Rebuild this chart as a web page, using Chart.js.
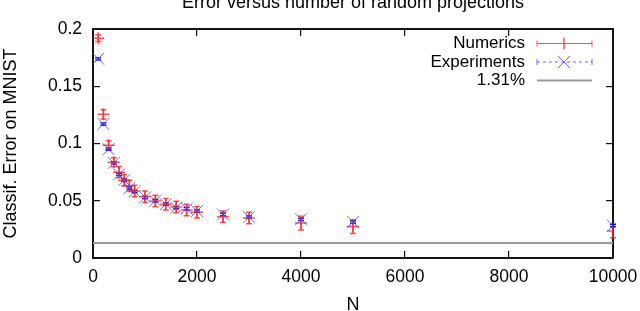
<!DOCTYPE html>
<html><head><meta charset="utf-8">
<script src="https://cdn.jsdelivr.net/npm/chart.js@4.4.1/dist/chart.umd.min.js"></script>
<style>html,body{margin:0;padding:0;background:#fff;}#w{width:640px;height:311px;}</style>
</head><body><div id="w"><canvas id="c"></canvas></div>
<script>
const titleText = "Error versus number of random projections";
const xTitle = "N";
const yTitle = "Classif. Error on MNIST";
const Nvals = [100,200,300,400,500,600,700,800,1000,1200,1400,1600,1800,2000,2500,3000,4000,5000,10000];
const numerics = [0.192,0.1255,0.0985,0.0836,0.075,0.068,0.063,0.0585,0.0535,0.0498,0.047,0.0445,0.042,0.040,0.036,0.0350,0.0305,0.0275,0.0236];
const numericsErr = [0.003,0.004,0.004,0.004,0.005,0.005,0.005,0.005,0.005,0.005,0.005,0.005,0.005,0.005,0.005,0.005,0.006,0.006,0.006];
const experiments = [0.174,0.117,0.095,0.083,0.073,0.068,0.061,0.058,0.053,0.050,0.047,0.044,0.043,0.041,0.038,0.0357,0.0338,0.0314,0.0282];
const experimentsErr = [0.001,0.001,0.001,0.001,0.001,0.001,0.001,0.001,0.001,0.001,0.001,0.001,0.001,0.001,0.001,0.001,0.001,0.001,0.001];
const refLevel = 0.0131;
const legendLabels = ["Numerics","Experiments","1.31%"];
const xTicks = [0,2000,4000,6000,8000,10000];
const yTicks = [0,0.05,0.1,0.15,0.2];

const RED = 'rgba(255,40,40,0.8)';
const BLUE = 'rgba(70,70,255,0.8)';
const GRAY = '#999999';
const FRAME = '#141414';
const FONT = '"Liberation Sans", Arial, sans-serif';

const overlay = {
  id: 'overlay',
  beforeDatasetsDraw(chart) {
    const {ctx} = chart;
    const x = chart.scales.x, y = chart.scales.y;
    ctx.save();
    const bars = (vals, errs, col, w) => {
      ctx.strokeStyle = col; ctx.lineWidth = w;
      vals.forEach((v, i) => {
        const px = x.getPixelForValue(Nvals[i]);
        const y1 = y.getPixelForValue(v - errs[i]), y2 = y.getPixelForValue(v + errs[i]);
        ctx.beginPath(); ctx.moveTo(px, y1); ctx.lineTo(px, y2);
        ctx.moveTo(px - 3, y1); ctx.lineTo(px + 3, y1);
        ctx.moveTo(px - 3, y2); ctx.lineTo(px + 3, y2);
        ctx.stroke();
      });
    };
    bars(numerics, numericsErr, RED, 1.5);
    bars(experiments, experimentsErr, 'rgba(0,0,200,0.9)', 1.5);
    ctx.restore();
  },
  afterDraw(chart) {
    const {ctx} = chart;
    const x = chart.scales.x;
    ctx.save();
    ctx.fillStyle = '#000';
    ctx.font = '18px ' + FONT;
    ctx.textAlign = 'center'; ctx.textBaseline = 'alphabetic';
    ctx.fillText(titleText, (x.getPixelForValue(0) + x.getPixelForValue(10000)) / 2, 8);
    const tx = 525, lx1 = 537, lx2 = 592, mx = 564;
    const rows = [43.5, 62, 80.5];
    ctx.font = '17px ' + FONT;
    ctx.textAlign = 'right'; ctx.textBaseline = 'middle';
    legendLabels.forEach((l, i) => ctx.fillText(l, tx, rows[i]));
    ctx.strokeStyle = RED; ctx.lineWidth = 1;
    ctx.beginPath();
    ctx.moveTo(lx1, rows[0]); ctx.lineTo(lx2, rows[0]);
    ctx.moveTo(lx1, rows[0] - 3); ctx.lineTo(lx1, rows[0] + 3);
    ctx.moveTo(lx2, rows[0] - 3); ctx.lineTo(lx2, rows[0] + 3);
    ctx.stroke();
    ctx.lineWidth = 1.5;
    ctx.beginPath();
    ctx.moveTo(mx, rows[0] - 6); ctx.lineTo(mx, rows[0] + 6);
    ctx.stroke();
    ctx.strokeStyle = BLUE; ctx.lineWidth = 1;
    ctx.setLineDash([3, 3]);
    ctx.beginPath(); ctx.moveTo(lx1, rows[1]); ctx.lineTo(lx2, rows[1]); ctx.stroke();
    ctx.setLineDash([]);
    ctx.beginPath();
    ctx.moveTo(lx1, rows[1] - 3); ctx.lineTo(lx1, rows[1] + 3);
    ctx.moveTo(lx2, rows[1] - 3); ctx.lineTo(lx2, rows[1] + 3);
    ctx.moveTo(mx - 6, rows[1] - 6); ctx.lineTo(mx + 6, rows[1] + 6);
    ctx.moveTo(mx - 6, rows[1] + 6); ctx.lineTo(mx + 6, rows[1] - 6);
    ctx.stroke();
    ctx.strokeStyle = GRAY; ctx.lineWidth = 2;
    ctx.beginPath(); ctx.moveTo(lx1, rows[2]); ctx.lineTo(lx2, rows[2]); ctx.stroke();
    ctx.restore();
  }
};

const frameGrid = {display: true, drawOnChartArea: false, drawTicks: true, tickLength: -7, color: FRAME, lineWidth: 1.2};
const frameBorder = {display: true, color: FRAME, width: 2};

new Chart(document.getElementById('c'), {
  type: 'scatter',
  data: {
    datasets: [
      {
        label: legendLabels[2], type: 'line',
        data: [{x: 0, y: refLevel}, {x: 10000, y: refLevel}],
        borderColor: GRAY, borderWidth: 2, pointRadius: 0, order: 3
      },
      {
        label: legendLabels[0],
        data: Nvals.map((n, i) => ({x: n, y: numerics[i]})),
        pointStyle: 'cross', pointRadius: 6, borderColor: RED, borderWidth: 1.5, backgroundColor: RED, order: 2
      },
      {
        label: legendLabels[1],
        data: Nvals.map((n, i) => ({x: n, y: experiments[i]})),
        pointStyle: 'crossRot', pointRadius: 8.5, borderColor: BLUE, borderWidth: 1, backgroundColor: BLUE, order: 1
      }
    ]
  },
  options: {
    responsive: true, maintainAspectRatio: false, animation: false,
    layout: {padding: {top: 29, right: 0, left: 0, bottom: 0}},
    plugins: {legend: {display: false}, tooltip: {enabled: false}, title: {display: false}},
    scales: {
      x: {
        type: 'linear', position: 'bottom', min: 0, max: 10000,
        afterBuildTicks: s => { s.ticks = xTicks.map(v => ({value: v})); },
        afterFit: s => { s.height = 53; s.paddingRight = 27; s.paddingLeft = 0; },
        grid: frameGrid, border: frameBorder,
        ticks: {color: '#000', font: {size: 17.5, family: FONT}, padding: 16, maxRotation: 0, callback: v => String(v)},
        title: {display: true, text: xTitle, color: '#000', font: {size: 18, family: FONT}, padding: {top: 0, bottom: -5}}
      },
      x2: {
        type: 'linear', position: 'top', min: 0, max: 10000,
        afterBuildTicks: s => { s.ticks = xTicks.map(v => ({value: v})); },
        afterFit: s => { s.height = 0; s.paddingRight = 27; s.paddingLeft = 0; },
        grid: frameGrid, border: frameBorder,
        ticks: {display: false}
      },
      y: {
        position: 'left', min: 0, max: 0.2,
        afterBuildTicks: s => { s.ticks = yTicks.map(v => ({value: v})); },
        afterFit: s => { s.width = 93; },
        grid: frameGrid, border: frameBorder,
        ticks: {color: '#000', font: {size: 17.5, family: FONT}, padding: 18, callback: v => String(Math.round(v * 100) / 100)},
        title: {display: true, text: yTitle, color: '#000', font: {size: 18, family: FONT}, padding: {top: 0, bottom: 0}}
      },
      y2: {
        position: 'right', min: 0, max: 0.2,
        afterBuildTicks: s => { s.ticks = yTicks.map(v => ({value: v})); },
        afterFit: s => { s.width = 0; },
        grid: frameGrid, border: frameBorder,
        ticks: {display: false}
      }
    }
  },
  plugins: [overlay]
});
</script></body></html>
